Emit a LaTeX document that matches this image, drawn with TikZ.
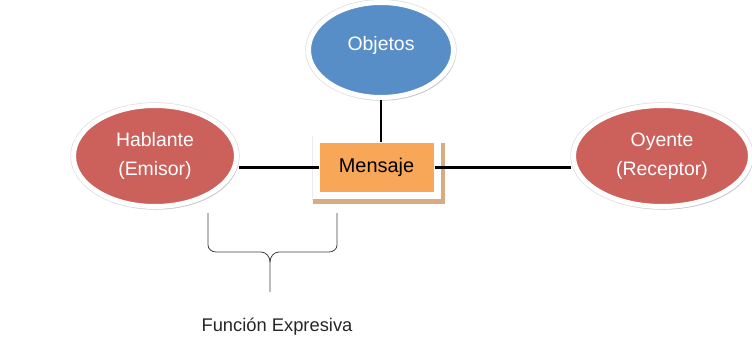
\documentclass[tikz,border=0pt]{standalone}
\usepackage{fontspec}
\setmainfont{Liberation Sans}
\usepackage{tikz}
\usetikzlibrary{shapes.geometric,shadows,positioning}
\definecolor{rolered}{RGB}{204,96,91}
\definecolor{objblue}{RGB}{88,142,200}
\definecolor{msgorange}{RGB}{248,167,89}
\definecolor{msgshadow}{RGB}{216,172,128}

\begin{document}
\begin{tikzpicture}[
  x=1bp, y=-1bp,
  role/.style={ellipse, fill=rolered, draw=white, line width=5bp,
               preaction={draw=gray!25, line width=6.5bp},
               drop shadow={shadow xshift=2bp, shadow yshift=-3bp, opacity=0.3},
               text=white, align=center, inner sep=0pt,
               font=\fontsize{19.5}{29}\selectfont},
  msgbox/.style={rectangle, fill=msgorange, draw=white, line width=7bp,
                 preaction={draw=gray!15, line width=8bp},
                 drop shadow={shadow xshift=2.5bp, shadow yshift=-5.5bp,
                              shadow scale=1.09, fill=msgshadow, opacity=1},
                 minimum width=121bp, minimum height=56bp,
                 font=\fontsize{20}{24}\selectfont},
  link/.style={line width=2.5bp, black, shorten >=-6bp}
]
\useasboundingbox (0,0) rectangle (752,342);

% Roles and message
\node[role, minimum width=163bp, minimum height=101bp] (hab) at (155,156)
  {Hablante\\(Emisor)};
\node[role, minimum width=177bp, minimum height=101bp] (oye) at (662,156)
  {Oyente\\(Receptor)};
\node[role, fill=objblue, minimum width=145bp, minimum height=95bp] (obj) at (381,50)
  {\raisebox{14bp}{Objetos}};
\node[msgbox] (msg) at (376.5,167.5) {Mensaje};

\draw[link] (obj.south) -- (obj.south |- msg.north);
\draw[link] (hab.east |- msg.west) -- (msg.west);
\draw[link] (oye.west |- msg.east) -- (msg.east);

% Brace under the speaker side
\draw[line width=0.8bp, black!75] (208,213) -- (208,245) to[out=-90,in=180] (216,252)
  -- (261,252) to[out=0,in=90] (270,262) -- (270,292);
\draw[line width=0.8bp, black!75] (337,213) -- (337,245) to[out=-90,in=0] (329,252)
  -- (279,252) to[out=180,in=90] (270,262);
\node[font=\fontsize{18.4}{22}\selectfont, text=black!85] (fexp) at (277,327)
  {Función Expresiva};
\end{tikzpicture}
\end{document}
